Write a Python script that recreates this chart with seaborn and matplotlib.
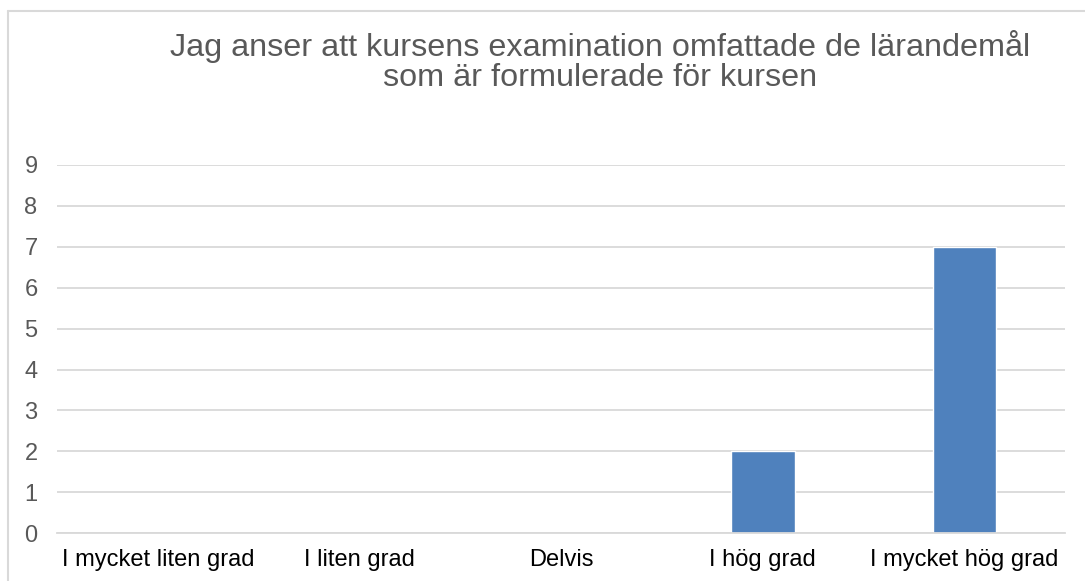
import matplotlib
matplotlib.use("Agg")
import matplotlib.pyplot as plt
from matplotlib.lines import Line2D
import seaborn as sns

categories = ["I mycket liten grad", "I liten grad", "Delvis", "I hög grad", "I mycket hög grad"]
counts = [0, 0, 0, 2, 7]
y_ticks = list(range(0, 10))
title_text = "Jag anser att kursens examination omfattade de lärandemål\nsom är formulerade för kursen"

sns.set_theme(style="white")
plt.rcParams['font.family'] = ['Liberation Sans', 'DejaVu Sans']

fig = plt.figure(figsize=(10.85, 5.81), dpi=100)
ax = fig.add_axes([0.0525, 0.0822, 0.9293, 0.634])

sns.barplot(x=categories, y=counts, color='#4F81BD', saturation=1, width=0.315, ax=ax)

ax.set_ylim(0, 9)
ax.set_yticks(y_ticks)
ax.yaxis.grid(True, color='#D9D9D9', linewidth=1.3)
ax.set_axisbelow(True)
for side in ['top', 'right', 'left']:
    ax.spines[side].set_visible(False)
ax.spines['bottom'].set_color('#D9D9D9')
ax.spines['bottom'].set_linewidth(1.3)
ax.tick_params(axis='y', length=0, pad=14, labelsize=17, labelcolor='#595959')
ax.tick_params(axis='x', length=0, pad=11, labelsize=17, labelcolor='#000000')
ax.set_xlabel('')
ax.set_ylabel('')

fig.text(0.553, 0.894, title_text, ha='center', va='center', fontsize=23.3,
         color='#595959', linespacing=1.0)

# chart border (right and bottom edges are cut off in the original)
fig.add_artist(Line2D([7.5 / 1085, 7.5 / 1085], [0, 1 - 10.5 / 581], transform=fig.transFigure,
                      color='#D9D9D9', linewidth=1.5))
fig.add_artist(Line2D([7.5 / 1085, 1], [1 - 10.5 / 581, 1 - 10.5 / 581], transform=fig.transFigure,
                      color='#D9D9D9', linewidth=1.5))

plt.savefig('out.png', dpi=100)
